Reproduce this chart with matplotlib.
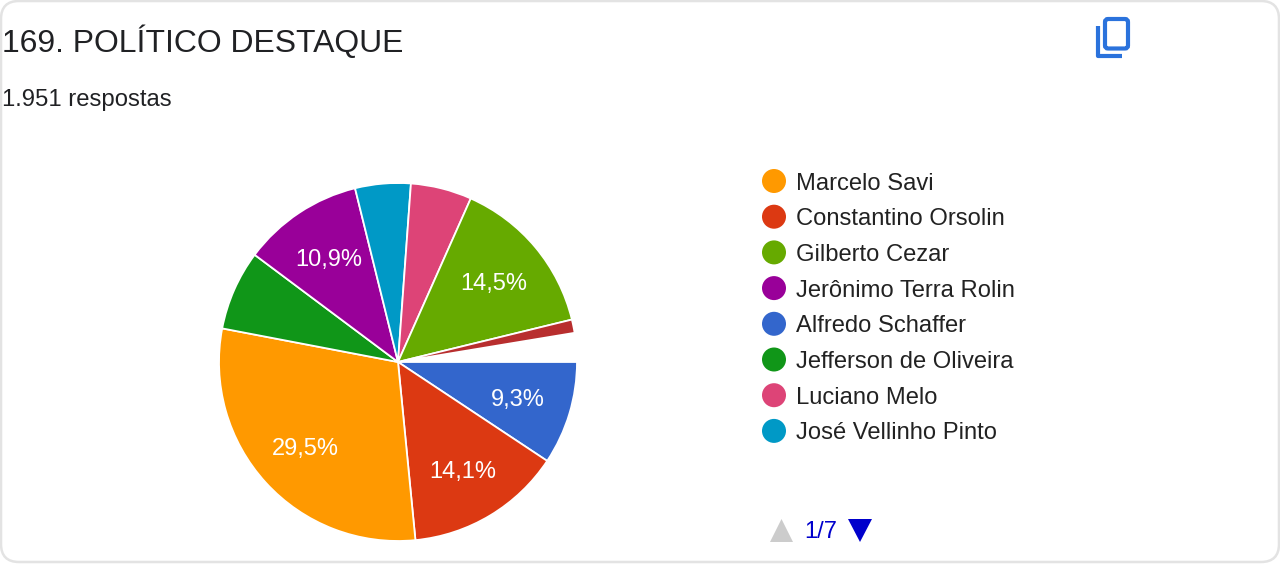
import math
import matplotlib
matplotlib.use("Agg")
import matplotlib.pyplot as plt
from matplotlib.patches import FancyBboxPatch, Polygon, Circle

plt.rcParams['font.family'] = ['Liberation Sans', 'DejaVu Sans']

title = "169. POLÍTICO DESTAQUE"
subtitle = "1.951 respostas"
legend_names = ["Marcelo Savi", "Constantino Orsolin", "Gilberto Cezar", "Jerônimo Terra Rolin",
                "Alfredo Schaffer", "Jefferson de Oliveira", "Luciano Melo", "José Vellinho Pinto"]
legend_colors = ["#FF9900", "#DC3912", "#66AA00", "#990099", "#3366CC", "#109618", "#DD4477", "#0099C6"]

# Slices, clockwise from 3 o'clock
slice_values = [9.3, 14.1, 29.5, 7.2, 10.9, 5.0, 5.5, 14.5, 1.2, 2.6]
slice_colors = ["#3366CC", "#DC3912", "#FF9900", "#109618", "#990099", "#0099C6", "#DD4477", "#66AA00", "#B82E2E", "#FFFFFF"]
slice_labels = ["9,3%", "14,1%", "29,5%", "", "10,9%", "", "", "14,5%", "", ""]
pager = "1/7"

W, H = 1280, 564
fig = plt.figure(figsize=(W / 100, H / 100), dpi=100, facecolor="white")
bg = fig.add_axes([0, 0, 1, 1])
bg.set_xlim(0, W)
bg.set_ylim(H, 0)
bg.axis("off")

bg.add_patch(FancyBboxPatch((1, 1), W - 2, H - 3, boxstyle="round,pad=0,rounding_size=18",
                            fc="white", ec="#E3E3E3", lw=1.8))

bg.text(2, 42, title, fontsize=22.95, color="#202124", va="center", ha="left")
bg.text(2, 100, subtitle, fontsize=17.2, color="#202124", va="center", ha="left")

# Copy icon
ic = "#2A72DC"
bg.add_patch(FancyBboxPatch((1105, 19), 23, 29.5, boxstyle="round,pad=0,rounding_size=3",
                            fc="none", ec=ic, lw=3))
bg.plot([1098, 1098, 1122], [26, 56, 56], color=ic, lw=3, solid_capstyle="butt", solid_joinstyle="round")

# Pie
cx, cy, r = 398, 362, 179
pie_ax = fig.add_axes([(cx - r) / W, 1 - (cy + r) / H, 2 * r / W, 2 * r / H])
wedges, texts = pie_ax.pie(slice_values, colors=slice_colors, startangle=0, counterclock=False,
                           radius=1, wedgeprops=dict(edgecolor="white", linewidth=1.3))
pie_ax.set_xlim(-1, 1)
pie_ax.set_ylim(-1, 1)
pie_ax.set_aspect("equal")
pie_ax.axis("off")
wedges[-1].set_edgecolor("none")
for t in texts:
    t.set_visible(False)

cum = 0.0
total = sum(slice_values)
for v, lab in zip(slice_values, slice_labels):
    mid = (cum + v / 2) / total * 2 * math.pi
    cum += v
    if lab:
        pie_ax.text(0.70 * math.cos(mid), -0.70 * math.sin(mid) - 0.012, lab, color="white",
                    fontsize=17, ha="center", va="center")

# Legend
for i, (name, col) in enumerate(zip(legend_names, legend_colors)):
    y = 181 + i * 35.7
    bg.add_patch(Circle((774, y), 12, fc=col, ec="none"))
    bg.text(796, y + 2.5, name, fontsize=17.15, color="#222222", va="center", ha="left")

# Pager
bg.add_patch(Polygon([[770, 542], [793, 542], [781.5, 519]], closed=True, fc="#CCCCCC", ec="none"))
bg.text(821, 531.5, pager, fontsize=17, color="#0000CC", va="center", ha="center")
bg.add_patch(Polygon([[848, 519], [872, 519], [860, 542]], closed=True, fc="#0000CC", ec="none"))

fig.savefig("out.png", dpi=100, facecolor="white")
